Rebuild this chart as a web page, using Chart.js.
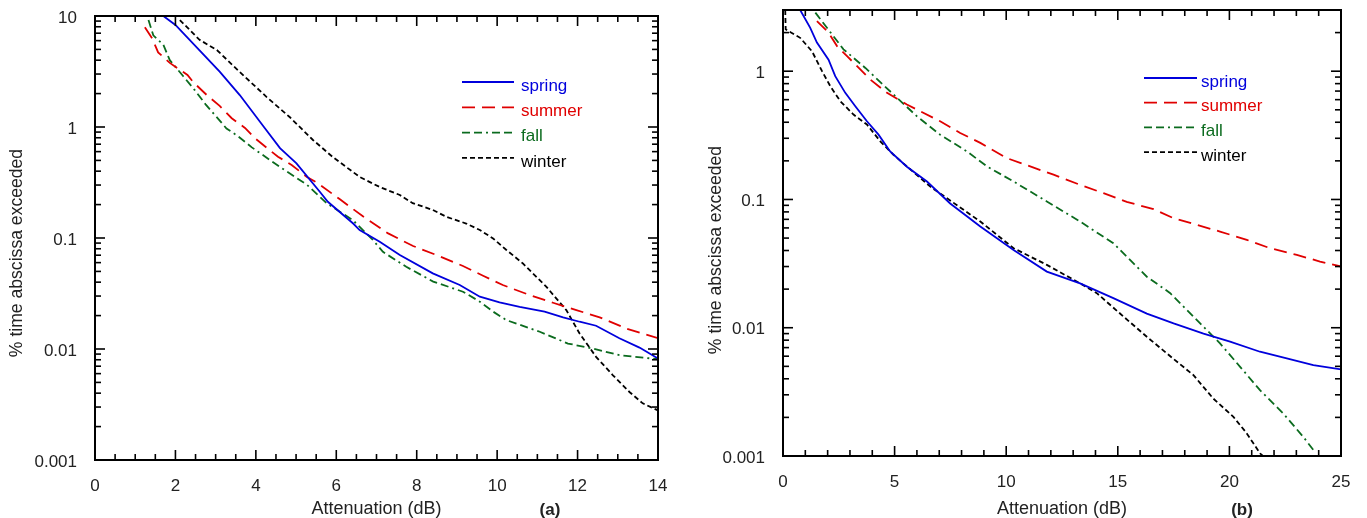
<!DOCTYPE html>
<html>
<head>
<meta charset="utf-8">
<script src="https://cdn.jsdelivr.net/npm/chart.js@4/dist/chart.umd.min.js"></script>
<style>
  html, body { margin: 0; background: #fff; }
  #wrap { position: relative; width: 1367px; height: 518px; overflow: hidden; }
  canvas { position: absolute; top: 0; }
  #canvaA { left: 0; }
  #canvaB { left: 683px; }
</style>
</head>
<body>
<div id="wrap">
  <canvas id="canvaA" width="683" height="518"></canvas>
  <canvas id="canvaB" width="684" height="518"></canvas>
</div>
<script>
// ---- data, panel (a) ----
const springAx = [1.7, 2.0, 2.6, 3.1, 3.6, 4.22, 4.6, 5.01, 5.59, 5.79, 6.42, 6.58, 7.08, 7.58, 8.4, 9.07, 9.57, 10.06, 10.56, 11.18, 11.64, 12.05, 12.46, 13.04, 13.54, 14.0];
const springAy = [10, 8.3, 4.9, 3.15, 1.94, 0.98, 0.645, 0.47, 0.261, 0.212, 0.135, 0.118, 0.0927, 0.0703, 0.048, 0.0377, 0.0296, 0.0263, 0.024, 0.0217, 0.0193, 0.0176, 0.0162, 0.0125, 0.0103, 0.0082];
const summerAx = [1.24, 1.42, 1.57, 1.86, 2.3, 2.44, 2.78, 3.1, 3.4, 3.73, 3.98, 4.27, 4.55, 4.89, 5.27, 5.52, 6.09, 6.67, 7.29, 7.91, 8.49, 9.15, 9.65, 10.14, 10.81, 11.39, 11.97, 12.55, 13.21, 14.0];
const summerAy = [7.9, 6.3, 4.7, 3.78, 2.94, 2.54, 1.94, 1.55, 1.2, 0.98, 0.79, 0.65, 0.54, 0.455, 0.355, 0.315, 0.223, 0.156, 0.110, 0.0847, 0.0703, 0.056, 0.0457, 0.0377, 0.0306, 0.0261, 0.0224, 0.0193, 0.0153, 0.0125];
const fallAx = [1.33, 1.45, 1.7, 1.86, 2.19, 2.48, 2.75, 3.27, 3.55, 3.9, 4.6, 5.27, 5.76, 6.41, 6.91, 7.16, 7.74, 8.41, 9.15, 9.57, 9.9, 10.23, 11.06, 11.76, 12.38, 13.04, 14.0];
const fallAy = [9.2, 6.7, 5.5, 4.0, 2.88, 2.15, 1.6, 0.97, 0.83, 0.655, 0.436, 0.302, 0.206, 0.145, 0.096, 0.075, 0.055, 0.0405, 0.0328, 0.0267, 0.0217, 0.0182, 0.0143, 0.0112, 0.0101, 0.0088, 0.0081];
const winterAx = [2.11, 2.6, 3.03, 3.6, 4.27, 4.84, 5.42, 5.91, 6.58, 7.08, 7.58, 7.9, 8.4, 8.74, 9.23, 9.57, 9.9, 10.23, 10.64, 11.22, 11.72, 12.05, 12.46, 12.88, 13.29, 13.62, 14.0];
const winterAy = [9.2, 6.1, 4.94, 3.13, 1.86, 1.23, 0.764, 0.537, 0.355, 0.288, 0.244, 0.206, 0.179, 0.155, 0.135, 0.118, 0.099, 0.078, 0.059, 0.0365, 0.0224, 0.0138, 0.0085, 0.0058, 0.0041, 0.00324, 0.0028];

// ---- data, panel (b) ----
const springBx = [0.77, 1.22, 1.52, 2.04, 2.34, 2.79, 3.24, 3.76, 4.28, 4.8, 5.55, 6.45, 7.49, 8.84, 10.33, 11.82, 13.31, 14.8, 16.3, 17.5, 18.84, 20.03, 21.37, 22.57, 23.76, 25.0];
const springBy = [3.0, 2.18, 1.67, 1.23, 0.914, 0.678, 0.533, 0.407, 0.32, 0.237, 0.18, 0.138, 0.093, 0.0615, 0.0404, 0.0274, 0.0222, 0.017, 0.0129, 0.0108, 0.009, 0.0078, 0.0065, 0.00577, 0.00511, 0.00473];
const summerBx = [1.52, 2.04, 2.42, 2.87, 3.54, 3.91, 4.66, 5.55, 6.15, 7.04, 7.94, 8.84, 10.03, 10.85, 12.12, 13.31, 14.36, 15.4, 16.6, 17.49, 18.54, 19.58, 20.78, 21.82, 23.02, 24.06, 25.0];
const summerBy = [2.46, 2.0, 1.57, 1.31, 1.0, 0.861, 0.678, 0.55, 0.487, 0.407, 0.33, 0.276, 0.21, 0.187, 0.156, 0.130, 0.112, 0.0958, 0.084, 0.0716, 0.0634, 0.0562, 0.0484, 0.0417, 0.037, 0.0328, 0.030];
const fallBx = [1.45, 1.97, 2.71, 3.69, 4.95, 6.0, 7.04, 8.24, 9.14, 10.33, 11.82, 13.31, 14.8, 16.3, 17.35, 18.69, 19.58, 20.48, 21.37, 22.42, 23.31, 23.84];
const fallBy = [2.86, 2.18, 1.48, 1.06, 0.658, 0.445, 0.32, 0.237, 0.181, 0.138, 0.0965, 0.0673, 0.0456, 0.025, 0.0186, 0.0108, 0.00755, 0.00496, 0.00326, 0.00214, 0.00141, 0.00107];
const winterBx = [0.1, 0.12, 0.77, 1.3, 1.75, 2.12, 2.57, 3.16, 3.76, 4.36, 4.95, 6.6, 8.84, 10.33, 11.82, 13.31, 14.06, 15.1, 16.3, 17.2, 18.39, 19.28, 20.18, 20.78, 21.37, 21.5];
const winterBy = [3.0, 2.12, 1.82, 1.43, 1.0, 0.763, 0.583, 0.459, 0.384, 0.284, 0.223, 0.126, 0.0673, 0.0417, 0.0309, 0.0222, 0.0186, 0.0129, 0.0085, 0.0063, 0.00427, 0.0028, 0.00202, 0.0015, 0.00105, 0.001];

const seasons = ['spring', 'summer', 'fall', 'winter'];
const yTicksA = [0.001, 0.01, 0.1, 1, 10];
const yTicksB = [0.001, 0.01, 0.1, 1];

const colors = ['#0000dc', '#e00000', '#0b6b1e', '#000000'];
const dashes = [[], [13, 7], [8, 4, 8, 4, 2, 4], [5, 3]];
const font = '"Liberation Sans", Arial, sans-serif';
const textColor = '#222';

const pts = (xs, ys) => xs.map((x, i) => ({x, y: ys[i]}));

// inward tick marks and the closed frame
const frameTicks = {
    id: 'frameTicks',
    afterDraw(chart, args, o) {
        const {ctx, chartArea: a, scales: {x, y}} = chart;
        const seg = (x1, y1, x2, y2) => { ctx.beginPath(); ctx.moveTo(x1, y1); ctx.lineTo(x2, y2); ctx.stroke(); };
        ctx.save();
        ctx.strokeStyle = '#000';
        ctx.lineWidth = 1.6;
        const nx = Math.round((x.max - x.min) / o.xMinor);
        for (let i = 0; i <= nx; i++) {
            const p = x.getPixelForValue(x.min + i * o.xMinor);
            const len = i % o.xEvery === 0 ? 10 : 6;
            seg(p, a.bottom, p, a.bottom - len);
            seg(p, a.top, p, a.top + len);
        }
        for (let e = Math.floor(Math.log10(y.min)); e < Math.log10(y.max); e++) {
            for (let m = 1; m <= 9; m++) {
                const v = m * Math.pow(10, e);
                if (v < y.min * 0.999 || v > y.max * 1.001) continue;
                const p = y.getPixelForValue(v);
                const len = m === 1 ? 10 : 6;
                seg(a.left, p, a.left + len, p);
                seg(a.right, p, a.right - len, p);
            }
        }
        ctx.lineWidth = 2;
        ctx.strokeRect(a.left, a.top, a.right - a.left, a.bottom - a.top);
        ctx.restore();
    }
};

// legend drawn inside the plot box
const boxLegend = {
    id: 'boxLegend',
    afterDraw(chart, args, o) {
        const {ctx, chartArea: a} = chart;
        ctx.save();
        ctx.font = '17px ' + font;
        ctx.textBaseline = 'middle';
        chart.data.datasets.forEach((ds, i) => {
            const y = a.top + o.top + i * o.row;
            ctx.strokeStyle = ds.borderColor;
            ctx.lineWidth = ds.borderWidth;
            ctx.setLineDash(ds.borderDash);
            ctx.beginPath();
            ctx.moveTo(a.left + o.lineFrom, y);
            ctx.lineTo(a.left + o.lineTo, y);
            ctx.stroke();
            ctx.setLineDash([]);
            ctx.fillStyle = ds.borderColor;
            ctx.fillText(ds.label, a.left + o.text, y + 4);
        });
        ctx.restore();
    }
};

// y title and panel letter
const paperText = {
    id: 'paperText',
    afterDraw(chart, args, o) {
        const {ctx} = chart;
        ctx.save();
        ctx.fillStyle = textColor;
        ctx.textAlign = 'center';
        ctx.textBaseline = 'middle';
        ctx.font = 'bold 17px ' + font;
        ctx.fillText(o.note, o.noteX, o.noteY);
        ctx.font = '17.6px ' + font;
        ctx.translate(o.yTitleX, o.yTitleY);
        ctx.rotate(-Math.PI / 2);
        ctx.fillText('% time abscissa exceeded', 0, 0);
        ctx.restore();
    }
};

function makeConfig(xs, ys, xMax, xStep, yMin, yMax, yTicks, yWidth, xHeight, padding, plugins) {
    return {
        type: 'line',
        data: {
            datasets: seasons.map((s, i) => ({
                label: s,
                data: pts(xs[i], ys[i]),
                borderColor: colors[i],
                borderDash: dashes[i],
                borderWidth: 1.8,
                pointRadius: 0,
                tension: 0,
                fill: false,
            }))
        },
        options: {
            responsive: false,
            animation: false,
            layout: {padding},
            scales: {
                x: {
                    type: 'linear',
                    min: 0,
                    max: xMax,
                    grid: {display: false, drawTicks: true, tickLength: 18},
                    border: {display: false},
                    ticks: {stepSize: xStep, padding: 0, color: textColor, font: {family: font, size: 17, lineHeight: 1}, maxRotation: 0},
                    title: {display: true, text: 'Attenuation (dB)', color: textColor, font: {family: font, size: 18, lineHeight: 1}, padding: {top: 0, bottom: 0}},
                    afterFit: s => { s.height = xHeight; },
                },
                y: {
                    type: 'logarithmic',
                    min: yMin,
                    max: yMax,
                    grid: {display: false, drawTicks: true, tickLength: 18},
                    border: {display: false},
                    afterBuildTicks: s => { s.ticks = yTicks.map(v => ({value: v})); },
                    ticks: {padding: 0, labelOffset: 2, color: textColor, font: {family: font, size: 17, lineHeight: 1}, callback: v => String(v)},
                    afterFit: s => { s.width = yWidth; },
                },
            },
            plugins: Object.assign({legend: {display: false}, tooltip: {enabled: false}}, plugins),
        },
        plugins: [frameTicks, boxLegend, paperText],
    };
}

const chartA = new Chart(
    document.getElementById('canvaA').getContext('2d'),
    makeConfig(
        [springAx, summerAx, fallAx, winterAx],
        [springAy, summerAy, fallAy, winterAy],
        14, 2, 0.001, 10, yTicksA, 95, 58,
        {left: 0, top: 16, right: 25, bottom: 0},
        {
            frameTicks: {xMinor: 0.5, xEvery: 4},
            boxLegend: {lineFrom: 367, lineTo: 419, text: 426, top: 66, row: 25.3},
            paperText: {note: '(a)', noteX: 550, noteY: 510, yTitleX: 17, yTitleY: 253},
        }
    )
);

const chartB = new Chart(
    document.getElementById('canvaB').getContext('2d'),
    makeConfig(
        [springBx, summerBx, fallBx, winterBx],
        [springBy, summerBy, fallBy, winterBy],
        25, 5, 0.001, 3, yTicksB, 100, 62,
        {left: 0, top: 10, right: 26, bottom: 0},
        {
            frameTicks: {xMinor: 1, xEvery: 5},
            boxLegend: {lineFrom: 361, lineTo: 414, text: 418, top: 68, row: 24.7},
            paperText: {note: '(b)', noteX: 559, noteY: 510, yTitleX: 33, yTitleY: 250},
        }
    )
);
</script>
</body>
</html>
